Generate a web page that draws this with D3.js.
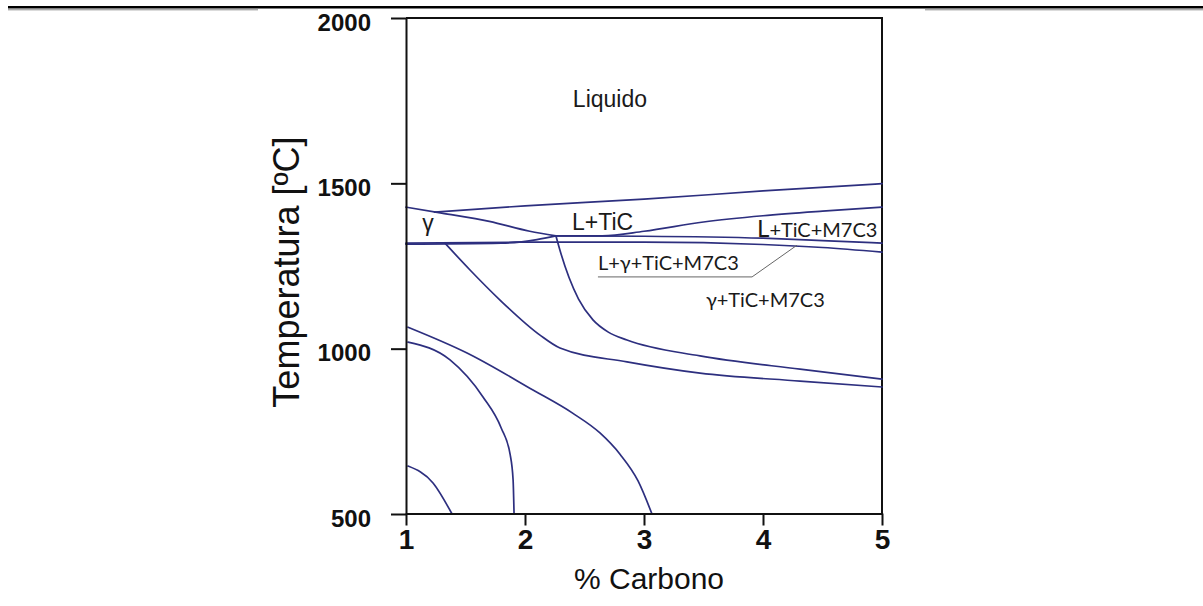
<!DOCTYPE html>
<html>
<head>
<meta charset="utf-8">
<script src="https://cdn.jsdelivr.net/npm/d3@7"></script>
<style>
  html, body { margin: 0; padding: 0; background: #fff; }
  svg { display: block; }
</style>
</head>
<body>
<svg id="chart" width="1203" height="606"></svg>
<script>
// Axis ticks
const carbonTicks = [1, 2, 3, 4, 5];
const tempTicks = [500, 1000, 1500, 2000];

// Phase boundaries: [% C, temperature °C]
const gammaLiquidus   = [[1, 1428], [1.3, 1410], [1.7, 1385], [2.04, 1355], [2.26, 1341]];
const ticLiquidus     = [[1.24, 1413], [2, 1432], [3, 1452], [4, 1477], [5, 1499]];
const m7c3Liquidus    = [[2.26, 1341], [2.65, 1341], [3, 1355], [3.5, 1383], [4, 1402], [4.5, 1416], [5, 1428]];
const eutecticUpper   = [[2.26, 1341], [3, 1340], [4, 1334], [4.5, 1327], [5, 1319]];
const solidus         = [[1, 1319], [2, 1322], [3, 1322], [4, 1315], [4.5, 1306], [5, 1292]];
const gammaSolidus    = [[1, 1316], [1.8, 1319], [2.1, 1330], [2.26, 1341]];
const m7c3Solvus      = [[1.33, 1318], [1.538, 1238], [1.79, 1147], [2.126, 1041], [2.294, 1002],
                         [2.857, 960], [3.471, 926], [4.311, 902], [5, 884]];
const ticSolvus       = [[2.26, 1341], [2.30, 1290], [2.37, 1215], [2.45, 1150], [2.571, 1087],
                         [2.7, 1050], [2.857, 1026], [3.471, 978], [4.311, 938], [5, 908]];
const ferriteUpper    = [[1.017, 1065], [1.513, 987], [2.067, 875], [2.4, 805], [2.63, 745],
                         [2.8, 680], [2.95, 600], [3.067, 500]];
const ferriteMiddle   = [[1.017, 1020], [1.37, 966], [1.647, 854], [1.8, 760], [1.875, 680], [1.9, 603], [1.908, 500]];
const ferriteLower    = [[1.017, 645], [1.227, 594], [1.387, 500]];

const boundaries = [gammaLiquidus, ticLiquidus, m7c3Liquidus, eutecticUpper, solidus,
                    gammaSolidus, m7c3Solvus, ticSolvus, ferriteUpper, ferriteMiddle, ferriteLower];

// Phase field names, anchored in data coordinates
const fieldLabels = [
  { text: "Liquido", at: [2.714, 1731], anchor: "middle", font: "sans" },
  { text: "γ", at: [1.185, 1356], anchor: "middle", font: "sans" },
  { text: "L+TiC", at: [2.395, 1359], anchor: "start", font: "sans" },
  { text: "L+TiC+M7C3", at: [3.95, 1338], anchor: "start", font: "humanist", bigL: true },
  { text: "L+γ+TiC+M7C3", at: [2.613, 1238], anchor: "start", font: "humanist" },
  { text: "γ+TiC+M7C3", at: [3.52, 1126], anchor: "start", font: "humanist" }
];
// Leader from the narrow four-phase band to its label
const leader = [[2.613, 1217], [3.908, 1217], [4.286, 1313]];

const svg = d3.select("#chart");

// Header rules
svg.append("rect").attr("x", 8).attr("y", 6).attr("width", 1195).attr("height", 2.5).attr("fill", "#000");
svg.append("line").attr("x1", 8).attr("x2", 258).attr("y1", 9.8).attr("y2", 9.8)
  .attr("stroke", "#888").attr("stroke-width", 1);
svg.append("line").attr("x1", 925).attr("x2", 1203).attr("y1", 9.8).attr("y2", 9.8)
  .attr("stroke", "#888").attr("stroke-width", 1);

const x = d3.scaleLinear().domain([1, 5]).range([406, 882]);
const y = d3.scaleLinear().domain([500, 2000]).range([514, 18]);

// Frame (top and right sides)
svg.append("path")
  .attr("d", `M${x(1)},${y(2000)}H${x(5)}V${y(500)}`)
  .attr("fill", "none").attr("stroke", "#111").attr("stroke-width", 2);

// Boundaries
const line = d3.line().x(d => x(d[0])).y(d => y(d[1])).curve(d3.curveMonotoneX);
svg.append("g").selectAll("path").data(boundaries).join("path")
  .attr("d", line)
  .attr("fill", "none")
  .attr("stroke", "#2d2f7f")
  .attr("stroke-width", 1.7)
  .attr("stroke-linecap", "round");

// Axes
const yAxis = svg.append("g").attr("transform", `translate(${x(1)},0)`)
  .call(d3.axisLeft(y).tickValues(tempTicks).tickFormat(d3.format("d"))
    .tickSize(15).tickSizeOuter(0).tickPadding(20));
yAxis.select(".domain").attr("stroke", "#111").attr("stroke-width", 2);
yAxis.selectAll(".tick line").attr("stroke", "#111").attr("stroke-width", 2);
yAxis.selectAll(".tick text")
  .attr("font-family", "'Liberation Sans', Arial, sans-serif")
  .attr("font-weight", "bold").attr("font-size", 24).attr("fill", "#111")
  .attr("dy", "0.5em");

const xAxis = svg.append("g").attr("transform", `translate(0,${y(500) - 0.5})`)
  .call(d3.axisBottom(x).tickValues(carbonTicks).tickFormat(d3.format("d"))
    .tickSize(12).tickSizeOuter(0).tickPadding(4));
xAxis.select(".domain").attr("stroke", "#111").attr("stroke-width", 2);
xAxis.selectAll(".tick line").attr("stroke", "#111").attr("stroke-width", 2);
xAxis.selectAll(".tick text")
  .attr("font-family", "'Liberation Sans', Arial, sans-serif")
  .attr("font-weight", "bold").attr("font-size", 28).attr("fill", "#111");

// Axis titles
svg.append("text")
  .attr("x", 649).attr("y", 589)
  .attr("text-anchor", "middle")
  .attr("font-family", "'Liberation Sans', Arial, sans-serif")
  .attr("font-size", 30).attr("fill", "#111")
  .text("% Carbono");

svg.append("text")
  .attr("transform", "translate(299,272) rotate(-90)")
  .attr("text-anchor", "middle")
  .attr("font-family", "'Liberation Sans', Arial, sans-serif")
  .attr("font-size", 36).attr("fill", "#111")
  .text("Temperatura [ºC]");

// Leader line
svg.append("path")
  .attr("d", d3.line().x(d => x(d[0])).y(d => y(d[1]))(leader))
  .attr("fill", "none").attr("stroke", "#666").attr("stroke-width", 1);

// Phase field labels
const fonts = {
  sans: { family: "'Liberation Sans', Arial, sans-serif", size: 23 },
  humanist: { family: "Lato, 'Open Sans', sans-serif", size: 20 }
};
fieldLabels.forEach(l => {
  const t = svg.append("text")
    .attr("x", x(l.at[0])).attr("y", y(l.at[1]))
    .attr("text-anchor", l.anchor)
    .attr("font-family", fonts[l.font].family)
    .attr("font-size", fonts[l.font].size)
    .attr("fill", "#1a1a1a");
  if (l.bigL) {
    t.append("tspan").attr("font-size", 24).text(l.text.slice(0, 1));
    t.append("tspan").text(l.text.slice(1));
  } else {
    t.text(l.text);
  }
});
</script>
</body>
</html>
